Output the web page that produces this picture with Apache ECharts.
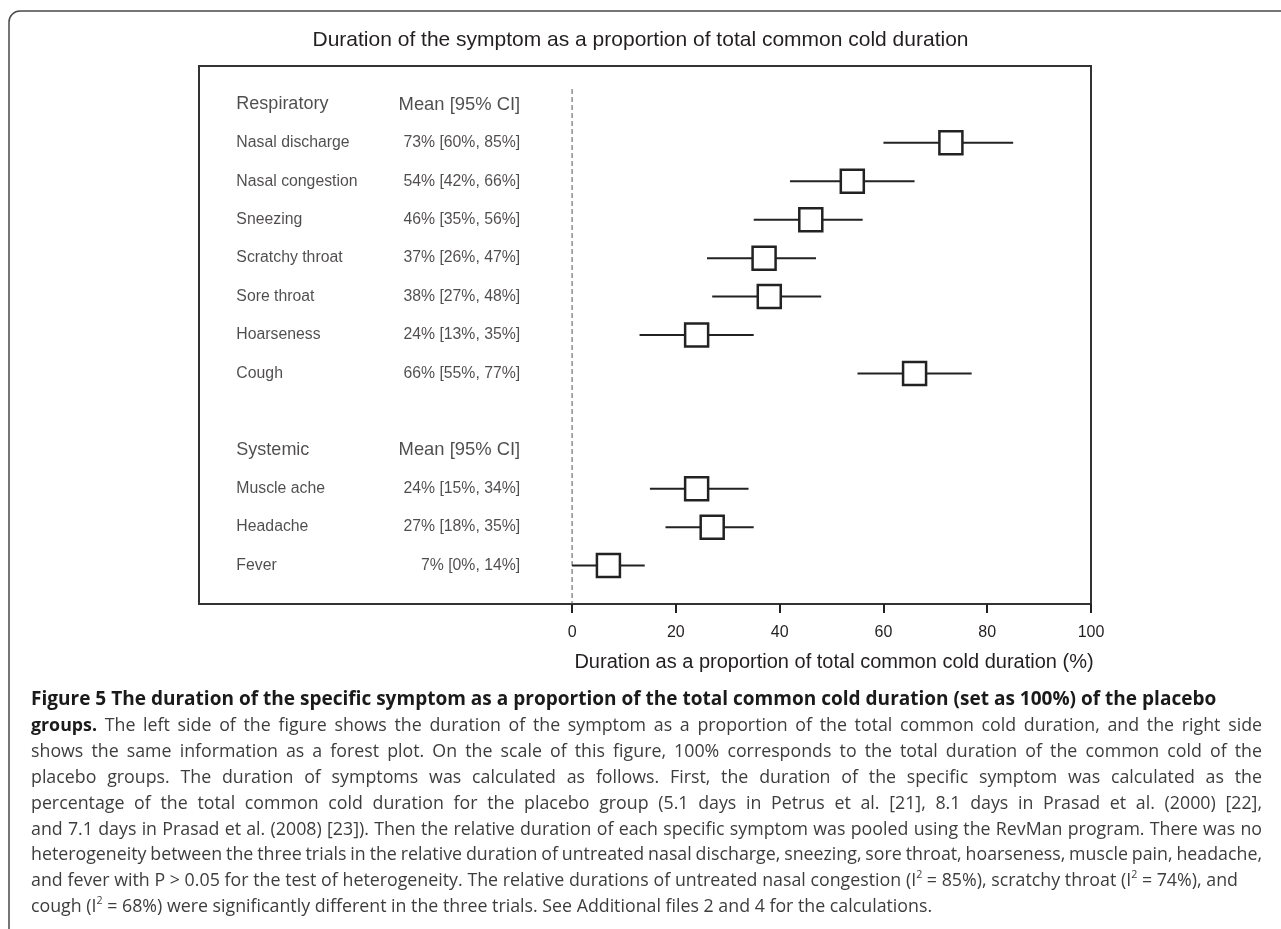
<!DOCTYPE html>
<html>
<head>
<meta charset="utf-8">
<script src="https://cdn.jsdelivr.net/npm/echarts@6/dist/echarts.min.js"></script>
<style>
html,body{margin:0;padding:0;background:#ffffff;}
#chart{width:1281px;height:929px;}
</style>
</head>
<body>
<div id="chart"></div>
<script>
// ================= DATA =================
const chartTitle = 'Duration of the symptom as a proportion of total common cold duration';
const xAxisTitle = 'Duration as a proportion of total common cold duration (%)';
const groupNames = ['Respiratory', 'Systemic'];
const ciHeader = 'Mean [95% CI]';

const respiratorySymptoms = ['Nasal discharge', 'Nasal congestion', 'Sneezing', 'Scratchy throat', 'Sore throat', 'Hoarseness', 'Cough'];
const respiratoryMean  = [73, 54, 46, 37, 38, 24, 66];
const respiratoryLower = [60, 42, 35, 26, 27, 13, 55];
const respiratoryUpper = [85, 66, 56, 47, 48, 35, 77];

const systemicSymptoms = ['Muscle ache', 'Headache', 'Fever'];
const systemicMean  = [24, 27, 7];
const systemicLower = [15, 18, 0];
const systemicUpper = [34, 35, 14];

const xTicks = [0, 20, 40, 60, 80, 100];

// caption (runs: b = bold, sup = superscript)
const NB = '\u00a0';
const captionLines = [
  {runs: [{t: 'Figure 5 The duration of the specific symptom as a proportion of the total common cold duration (set as 100%) of the placebo', b: 1}]},
  {runs: [{t: 'groups.', b: 1}, {t: ' The left side of the figure shows the duration of the symptom as a proportion of the total common cold duration, and the right side'}], justify: 1262},
  {runs: [{t: 'shows the same information as a forest plot. On the scale of this figure, 100% corresponds to the total duration of the common cold of the'}], justify: 1262},
  {runs: [{t: 'placebo groups. The duration of symptoms was calculated as follows. First, the duration of the specific symptom was calculated as the'}], justify: 1262},
  {runs: [{t: 'percentage of the total common cold duration for the placebo group (5.1 days in Petrus et al. [21], 8.1 days in Prasad et al. (2000) [22],'}], justify: 1262},
  {runs: [{t: 'and 7.1 days in Prasad et al. (2008) [23]). Then the relative duration of each specific symptom was pooled using the RevMan program. There was no'}], justify: 1262},
  {runs: [{t: 'heterogeneity between the three trials in the relative duration of untreated nasal discharge, sneezing, sore throat, hoarseness, muscle pain, headache,'}], justify: 1262},
  {runs: [{t: 'and fever with P' + NB + '>' + NB + '0.05 for the test of heterogeneity. The relative durations of untreated nasal congestion (I'}, {t: '2', sup: 1}, {t: NB + '=' + NB + '85%), scratchy throat (I'}, {t: '2', sup: 1}, {t: NB + '=' + NB + '74%), and'}], justify: 1238},
  {runs: [{t: 'cough (I'}, {t: '2', sup: 1}, {t: NB + '=' + NB + '68%) were significantly different in the three trials. See Additional files 2 and 4 for the calculations.'}]}
];

// ================= LAYOUT =================
const FONT = '"Liberation Sans", Arial, sans-serif';
const TXT = '#231f20';
const X_MIN = -71.9;          // left edge of the plot frame in axis units
const NAME_X = -64.7;         // left edge of symptom names (axis units)
const CI_X = -10;             // right edge of mean/CI column (axis units)
const CAP_LEFT = 31;
const CAP_TOP = 700;
const CAP_STEP = 25.9;

// ================= BUILD ROWS =================
const rows = [];
let slot = 0;
function addGroup(name, syms, mean, lo, hi) {
  rows.push({header: true, name: name, ci: ciHeader, y: slot++});
  syms.forEach((s, k) => {
    rows.push({header: false, name: s, ci: mean[k] + '% [' + lo[k] + '%, ' + hi[k] + '%]',
      mean: mean[k], lo: lo[k], hi: hi[k], y: slot++});
  });
}
addGroup(groupNames[0], respiratorySymptoms, respiratoryMean, respiratoryLower, respiratoryUpper);
slot++; // blank spacer row
addGroup(groupNames[1], systemicSymptoms, systemicMean, systemicLower, systemicUpper);
const items = rows.filter(r => !r.header);

// ================= CAPTION =================
const mctx = document.createElement('canvas').getContext('2d');
function fontStr(size, bold) { return (bold ? 'bold ' : 'normal ') + size.toFixed(2) + 'px "Open Sans"'; }
function mw(t, size, bold) { mctx.font = fontStr(size, bold); return mctx.measureText(t).width; }
function toWords(line) {
  const words = [[]];
  line.runs.forEach(run => {
    const parts = run.t.split(' ');
    parts.forEach((p, j) => {
      if (j > 0) words.push([]);
      if (p) words[words.length - 1].push({t: p, b: !!run.b, sup: !!run.sup});
    });
  });
  return words.filter(w => w.length);
}
function segSize(seg, size) { return seg.sup ? size * 0.6 : size; }
function wordWidth(w, size) { return w.reduce((a, s) => a + mw(s.t, segSize(s, size), s.b), 0); }
function naturalWidth(line, size) {
  const ws = toWords(line);
  const bold = ws.length && ws[0][0].b && line.runs.length === 1;
  return ws.reduce((a, w) => a + wordWidth(w, size), 0) + (ws.length - 1) * mw(' ', size, bold);
}
const baseSize = 16;
const regSize = baseSize * (902 / naturalWidth(captionLines[8], baseSize));
const boldSize = baseSize * (1186 / naturalWidth(captionLines[0], baseSize));

const captionGraphics = [];
captionLines.forEach((line, li) => {
  const size = li === 0 ? boldSize : regSize;
  const ws = toWords(line);
  const widths = ws.map(w => wordWidth(w, size));
  const total = widths.reduce((a, b) => a + b, 0);
  const allBold = li === 0;
  let gap = mw(' ', size, allBold);
  if (line.justify && ws.length > 1) {
    const g = (line.justify - CAP_LEFT - total) / (ws.length - 1);
    if (g > gap * 0.7) gap = g;
  }
  const y = CAP_TOP + li * CAP_STEP;
  let x = CAP_LEFT;
  ws.forEach((w, wi) => {
    let cx = x;
    w.forEach(seg => {
      const s = segSize(seg, size);
      captionGraphics.push({
        type: 'text', x: cx, y: seg.sup ? y - size * 0.36 : y, silent: true,
        style: {text: seg.t, font: fontStr(s, seg.b), fill: seg.b ? '#1a1a1a' : '#3d3d3d',
          align: 'left', verticalAlign: 'middle', textAlign: 'left', textVerticalAlign: 'middle'}
      });
      cx += mw(seg.t, s, seg.b);
    });
    x += widths[wi] + gap;
  });
});

// ================= CHART =================
const chart = echarts.init(document.getElementById('chart'), null, {renderer: 'canvas', width: 1281, height: 929});

const option = {
  animation: false,
  backgroundColor: '#ffffff',
  textStyle: {fontFamily: FONT, color: TXT},
  title: {
    text: chartTitle, left: 'center', top: 25,
    textStyle: {fontSize: 21, fontWeight: 'normal', color: TXT, fontFamily: FONT}
  },
  grid: {
    left: 199, right: 190, top: 66, bottom: 325,
    show: true, borderColor: '#333', borderWidth: 2, backgroundColor: 'transparent',
    containLabel: false, outerBoundsMode: 'none'
  },
  xAxis: {
    type: 'value', min: X_MIN, max: 100, position: 'bottom',
    axisLine: {show: true, onZero: false, lineStyle: {color: '#333', width: 2}},
    axisTick: {show: true, customValues: xTicks, length: 9, lineStyle: {color: '#222', width: 2}},
    axisLabel: {show: true, customValues: xTicks, margin: 21, fontSize: 16, color: TXT, fontFamily: FONT},
    splitLine: {show: false}
  },
  yAxis: {type: 'value', min: -1, max: 13, inverse: true, show: false, splitLine: {show: false}},
  graphic: [
    {type: 'rect', silent: true, z: -1,
     shape: {x: 9, y: 11, width: 1500, height: 1200, r: 11},
     style: {fill: 'none', stroke: '#4a4a4a', lineWidth: 1.5}},
    {type: 'text', silent: true, x: 834, y: 662,
     style: {text: xAxisTitle, font: 'normal 20px ' + FONT, fill: TXT,
       align: 'center', verticalAlign: 'middle', textAlign: 'center', textVerticalAlign: 'middle'}}
  ].concat(captionGraphics),
  series: [
    {
      name: 'zero', type: 'line', silent: true, symbol: 'none', z: 1,
      data: [[0, -0.4], [0, 13]],
      lineStyle: {color: '#555', width: 1, type: [5, 3]}
    },
    {
      name: 'ci', type: 'custom', silent: true, z: 2,
      encode: {x: [0, 1], y: 2},
      data: items.map(r => [r.lo, r.hi, r.y]),
      renderItem: function (params, api) {
        const a = api.coord([api.value(0), api.value(2)]);
        const b = api.coord([api.value(1), api.value(2)]);
        return {type: 'line', shape: {x1: a[0], y1: a[1], x2: b[0], y2: b[1]},
          style: {stroke: '#222', lineWidth: 2}};
      }
    },
    {
      name: 'mean', type: 'scatter', silent: true, z: 3,
      symbol: 'rect', symbolSize: 23,
      itemStyle: {color: '#ffffff', borderColor: '#222', borderWidth: 2.5, opacity: 1},
      data: items.map(r => [r.mean, r.y])
    },
    {
      name: 'names', type: 'scatter', silent: true, z: 4, symbolSize: 0,
      data: rows.map(r => ({name: r.name, value: [NAME_X, r.y],
        label: {fontSize: r.header ? 18 : 15.8}})),
      label: {show: true, position: 'right', distance: 0, formatter: '{b}', color: TXT, fontFamily: FONT}
    },
    {
      name: 'cis', type: 'scatter', silent: true, z: 4, symbolSize: 0,
      data: rows.map(r => ({name: r.ci, value: [CI_X, r.y],
        label: {fontSize: r.header ? 18.4 : 15.8}})),
      label: {show: true, position: 'left', distance: 0, formatter: '{b}', color: TXT, fontFamily: FONT}
    }
  ]
};
chart.setOption(option);
</script>
</body>
</html>
